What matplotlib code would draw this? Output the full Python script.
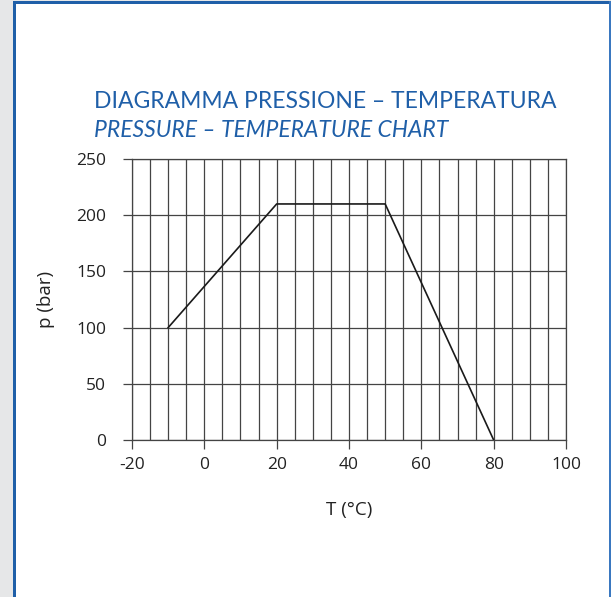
import numpy as np
import matplotlib.pyplot as plt
from matplotlib.patches import Rectangle

temp = [-10, 20, 50, 80]        # T (°C)
press = [100, 210, 210, 0]      # p (bar)
x_ticks = [-20, 0, 20, 40, 60, 80, 100]
y_ticks = [0, 50, 100, 150, 200, 250]

plt.rcParams['axes.unicode_minus'] = False

blue = '#1f5fa8'
W, H = 611, 597

fig = plt.figure(figsize=(W / 100, H / 100), dpi=100)
fig.patch.set_facecolor('white')

# cornice: striscia grigia a sinistra e bordo blu
fig.add_artist(Rectangle((0, 0), 13 / W, 1, transform=fig.transFigure,
                         facecolor='#e6e7e8', edgecolor='none'))
fig.add_artist(Rectangle((0, 1 - 1 / H), 1, 1 / H, transform=fig.transFigure,
                         facecolor='#e6e7e8', edgecolor='none'))
fig.add_artist(Rectangle((13 / W, 0), 3 / W, 1 - 1 / H, transform=fig.transFigure,
                         facecolor=blue, edgecolor='none'))
fig.add_artist(Rectangle((13 / W, 1 - 4 / H), 1, 3 / H, transform=fig.transFigure,
                         facecolor=blue, edgecolor='none'))
fig.add_artist(Rectangle((609 / W, 0), 2 / W, 1 - 1 / H, transform=fig.transFigure,
                         facecolor='#3a78c0', edgecolor='none'))

ax = fig.add_axes([132 / W, 157 / H, 434 / W, 281 / H])
ax.plot(temp, press, color='#1a1a1a', lw=1.2, zorder=3)

ax.set_xlim(-20, 100)
ax.set_ylim(0, 250)
ax.set_xticks(x_ticks)
ax.set_yticks(y_ticks)
ax.set_xticks(np.arange(-20, 101, 5), minor=True)
ax.tick_params(axis='x', which='minor', length=0)
ax.tick_params(axis='both', which='major', length=6.5, width=0.9, color='#444444',
               labelsize=12.5, labelcolor='#222222')
ax.tick_params(axis='x', pad=6)
ax.tick_params(axis='y', pad=12)
ax.grid(True, axis='x', which='both', color='#444444', lw=0.9)
ax.grid(True, axis='y', which='major', color='#444444', lw=0.9)
ax.set_axisbelow(True)
for s in ax.spines.values():
    s.set_color('#444444')
    s.set_linewidth(0.9)
for lab in ax.get_xticklabels() + ax.get_yticklabels():
    lab.set_family('Open Sans')

ax.set_xlabel('T (°C)', fontsize=13.5, family='Open Sans', color='#222222', labelpad=20)
ax.set_ylabel('p (bar)', fontsize=13.5, family='Open Sans', color='#222222', labelpad=15)

fig.text(94 / W, 1 - 108 / H, 'DIAGRAMMA PRESSIONE – TEMPERATURA', fontsize=16.5,
         family='Lato', color=blue, ha='left', va='baseline')
fig.text(94 / W, 1 - 137 / H, 'PRESSURE – TEMPERATURE CHART', fontsize=16.5,
         family='Lato', style='italic', color=blue, ha='left', va='baseline')

plt.savefig('out.png', dpi=100)
